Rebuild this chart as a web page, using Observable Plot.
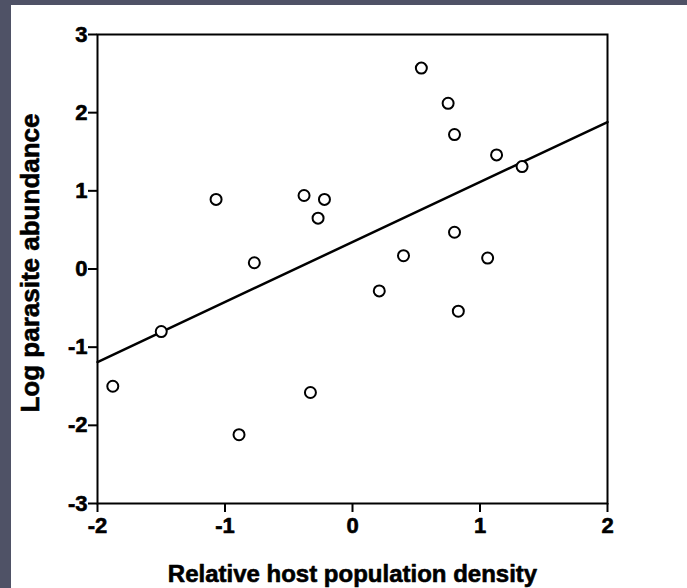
<!DOCTYPE html>
<html>
<head>
<meta charset="utf-8">
<script src="https://cdn.jsdelivr.net/npm/d3@7"></script>
<script src="https://cdn.jsdelivr.net/npm/@observablehq/plot@0.6"></script>
<style>
  html, body { margin: 0; padding: 0; }
  body { width: 687px; height: 588px; background: #4f5266; position: relative; overflow: hidden; }
  #chart { position: absolute; left: 11px; top: 5px; width: 676px; height: 583px; background: #ffffff; }
  #chart svg { display: block; }
</style>
</head>
<body>
<div id="chart"></div>
<script>
// Observed points
const hostDensity = [-1.88, -1.50, -1.07, -0.77, -0.89, -0.38, -0.22, -0.27, -0.33, 0.21, 0.40, 0.54, 0.75, 0.80, 0.80, 0.83, 1.06, 1.13, 1.33];
const parasiteAbundance = [-1.50, -0.80, 0.89, 0.08, -2.12, 0.94, 0.89, 0.65, -1.58, -0.28, 0.17, 2.57, 2.12, 1.72, 0.47, -0.54, 0.14, 1.46, 1.31];
// Fitted regression line (endpoints)
const fitX = [-2, 2];
const fitY = [-1.19, 1.88];
// Axis ticks
const xTicks = [-2, -1, 0, 1, 2];
const yTicks = [-3, -2, -1, 0, 1, 2, 3];
const xLabel = "Relative host population density";
const yLabel = "Log parasite abundance";

const points = hostDensity.map((x, i) => ({x, y: parasiteAbundance[i]}));
const fit = fitX.map((x, i) => ({x, y: fitY[i]}));

const font = "'Liberation Sans', Arial, Helvetica, sans-serif";
const heavy = {fontWeight: "bold", fill: "#000", stroke: "#000", strokeWidth: 0.6};

const chart = Plot.plot({
  width: 676,
  height: 583,
  marginLeft: 86,
  marginRight: 80,
  marginTop: 29,
  marginBottom: 85,
  style: {fontFamily: font, background: "#ffffff", color: "#000"},
  x: {domain: [-2, 2]},
  y: {domain: [-3, 3]},
  marks: [
    Plot.frame({stroke: "#000", strokeWidth: 2}),
    Plot.axisX({ticks: xTicks, tickFormat: () => "", tickSize: 9, strokeWidth: 2, label: null}),
    Plot.axisY({ticks: yTicks, tickFormat: () => "", tickSize: 9, strokeWidth: 2, label: null}),
    Plot.text(xTicks, {x: d => d, frameAnchor: "bottom", dy: 22, lineAnchor: "middle", textAnchor: "middle",
      text: d => String(d), fontSize: 22, ...heavy}),
    Plot.text(yTicks, {y: d => d, frameAnchor: "left", dx: -10, textAnchor: "end", lineAnchor: "middle",
      text: d => String(d), fontSize: 22, ...heavy}),
    Plot.line(fit, {x: "x", y: "y", stroke: "#000", strokeWidth: 2.5}),
    Plot.dot(points, {x: "x", y: "y", r: 5.5, stroke: "#000", strokeWidth: 2, fill: "#fff"}),
    Plot.text([xLabel], {frameAnchor: "bottom", dy: 71, lineAnchor: "middle", textAnchor: "middle", text: d => d,
      fontSize: 24, ...heavy}),
    Plot.text([yLabel], {frameAnchor: "left", dx: -67, dy: -6, rotate: -90, lineAnchor: "middle", textAnchor: "middle",
      text: d => d, fontSize: 26, ...heavy})
  ]
});
document.getElementById("chart").appendChild(chart);
</script>
</body>
</html>
